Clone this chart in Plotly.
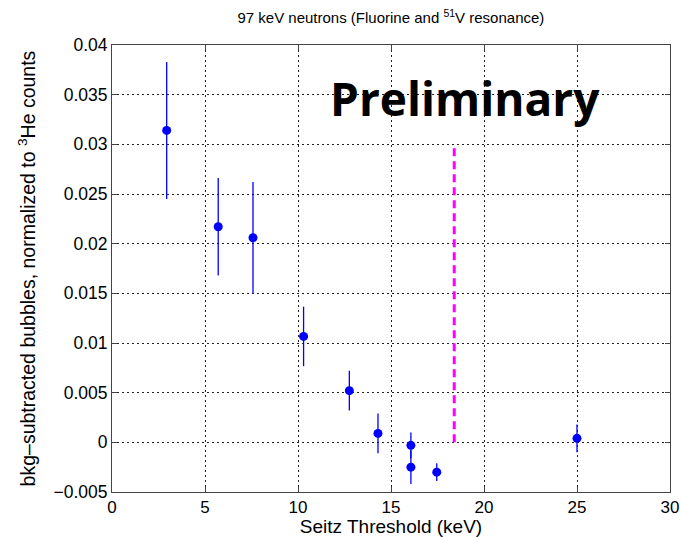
import plotly.graph_objects as go

threshold_kev = [2.94, 5.71, 7.58, 10.3, 12.76, 14.3, 16.07, 16.07, 17.46, 25.0]
bubbles_norm = [0.0314, 0.0217, 0.0206, 0.01066, 0.0052, 0.0009, -0.0003, -0.0025, -0.0030, 0.0004]
errors = [0.0069, 0.0049, 0.0056, 0.0030, 0.0020, 0.0020, 0.0013, 0.0017, 0.0009, 0.0014]

resonance_x = [18.4, 18.4]
resonance_y = [0.0, 0.030]

x_ticks = [0, 5, 10, 15, 20, 25, 30]
y_ticks = [-0.005, 0, 0.005, 0.01, 0.015, 0.02, 0.025, 0.03, 0.035, 0.04]
y_tick_labels = ["\u22120.005", "0", "0.005", "0.01", "0.015", "0.02", "0.025", "0.03", "0.035", "0.04"]

fig = go.Figure()
fig.add_trace(go.Scatter(
    x=resonance_x, y=resonance_y, mode="lines",
    line=dict(color="#FF00FF", width=3, dash="8px,5px"),
    showlegend=False, hoverinfo="skip"))
fig.add_trace(go.Scatter(
    x=threshold_kev, y=bubbles_norm, mode="markers",
    marker=dict(color="#0000FF", size=9),
    error_y=dict(type="data", array=errors, color="#0000FF", thickness=1.3, width=0),
    showlegend=False))

fig.add_annotation(x=19.0, y=0.0347, xref="x", yref="y", text="<b>Preliminary</b>",
                   showarrow=False, xanchor="center", yanchor="middle",
                   font=dict(family="Open Sans", size=46, color="black"))

axis_common = dict(
    showline=True, linecolor="#444444", linewidth=1, mirror="ticks",
    ticks="inside", ticklen=5, tickcolor="#444444",
    showgrid=True, gridcolor="#222222", griddash="2px,3px", gridwidth=1,
    zeroline=False, automargin=False,
)

fig.update_layout(
    width=681, height=537,
    margin=dict(l=112, r=11, t=45, b=45),
    paper_bgcolor="white", plot_bgcolor="white",
    title=dict(text="97 keV neutrons (Fluorine and <sup>51</sup>V resonance)",
               x=0.574, xanchor="center", y=0.967, yanchor="middle",
               font=dict(family="Arial", size=15, color="black")),
    xaxis=dict(range=[0, 30], tickvals=x_ticks,
               tickfont=dict(family="Arial", size=17, color="black"),
               title=dict(text="Seitz Threshold (keV)", standoff=0,
                          font=dict(family="Arial", size=19, color="black")),
               **axis_common),
    yaxis=dict(range=[-0.005, 0.04], tickvals=y_ticks, ticktext=y_tick_labels,
               tickfont=dict(family="Arial", size=17.5, color="black"),
               title=dict(text="bkg\u2013subtracted bubbles, normalized to <sup>3</sup>He counts", standoff=12,
                          font=dict(family="Arial", size=19.5, color="black")),
               **axis_common),
)

fig.write_html("out.html")
